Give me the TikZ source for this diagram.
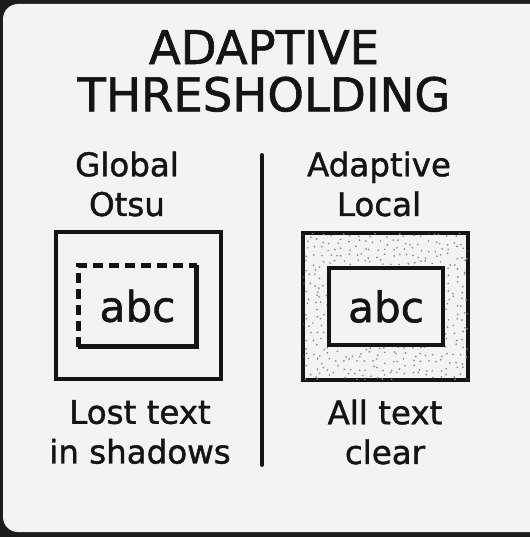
\documentclass[tikz,border=0pt]{standalone}
\usepackage{fontspec}
\setmainfont{DejaVu Sans}
\newfontfamily\medfont{DejaVu Sans}[BoldFont=DejaVu Sans, BoldFeatures={FakeBold=1.3}]
\usetikzlibrary{positioning,calc}
\definecolor{bgdark}{HTML}{1C1C1C}
\definecolor{cardgray}{HTML}{F3F3F3}
\definecolor{ink}{HTML}{141414}
\definecolor{dotgray}{HTML}{8C8C8C}

\begin{document}
\begin{tikzpicture}[
    x=0.02cm, y=-0.02cm,
    headline/.style={font=\medfont\bfseries\fontsize{26.5}{26.9}\selectfont, align=center, text=ink},
    lbl/.style={font=\medfont\bfseries\fontsize{18.5}{22.6}\selectfont, align=center, text=ink},
    outerbox/.style={draw=ink, line width=2.3pt, minimum width=3.3cm, minimum height=2.94cm, inner sep=0pt},
    innerbox/.style={line width=2.3pt, minimum width=2.28cm, minimum height=1.54cm, inner sep=0pt, font=\medfont\bfseries\fontsize{24}{24}\selectfont, text=ink},
    divider/.style={draw=ink, line width=2.2pt, line cap=round},
    dashside/.style={draw=ink, line width=2.3pt, dash pattern=on 0.19cm off 0.13cm}
]
\useasboundingbox (0,0) rectangle (530,537);
\fill[bgdark] (0,0) rectangle (530,537);
\fill[cardgray, rounded corners=0.3cm] (3,4) rectangle (545,532);

% Titles
\node[headline] (title) at (264,71) {ADAPTIVE\\THRESHOLDING};
\node[lbl] (global) at (127,184) {Global\\Otsu};
\node[lbl] (adaptive) at (379,184) {Adaptive\\Local};

% Divider
\coordinate (divtop) at (262,155);
\coordinate (divbot) at (262,465);
\draw[divider] (divtop) -- (divbot);

% Left panel
\node[outerbox] (outL) at (138.5,305.5) {};
\node[innerbox] (inL) at (137.5,306) {abc};
\draw[draw=ink, line width=2.3pt] (inL.north east) -- (inL.south east) -- (inL.south west);
\draw[dashside] (inL.south west) -- (inL.north west) -- (inL.north east);

% Right panel
\node[outerbox] (outR) at (385.5,306.5) {};
\begin{scope}
  \clip ($(outR.south west)+(2.5,-2.5)$) rectangle ($(outR.north east)+(-2.5,2.5)$);
  \pgfmathsetseed{17}
  \foreach \gx in {0,7,...,168}{
    \foreach \gy in {0,7,...,147}{
      \fill[dotgray] ($(outR.south west)+(\gx+rand*3,-\gy-rand*3)$) circle (0.55pt);
    }
  }
\end{scope}
\node[innerbox, draw=ink, fill=cardgray] (inR) at (386,306.5) {abc};

% Captions
\node[lbl] (lost) at (140,432) {Lost text\\in shadows};
\node[lbl] (clear) at (385,432) {All text\\clear};
\end{tikzpicture}
\end{document}
